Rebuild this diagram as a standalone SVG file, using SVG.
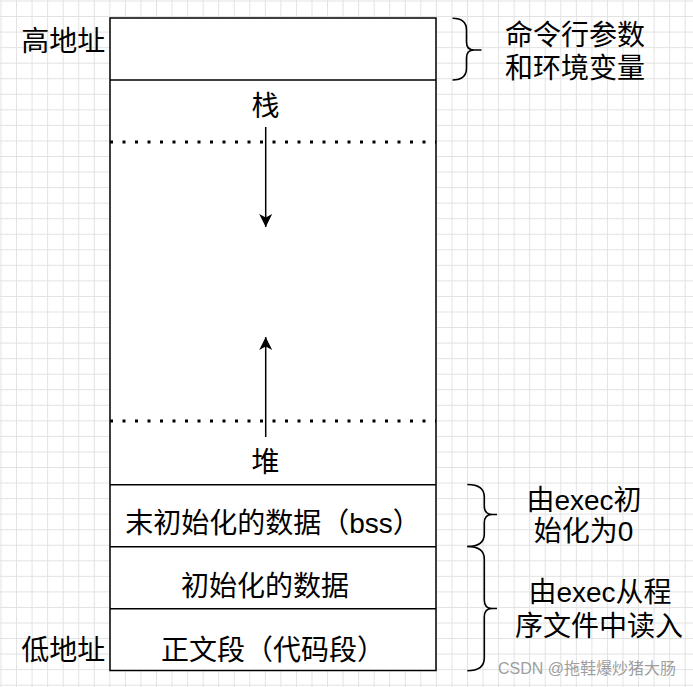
<svg xmlns="http://www.w3.org/2000/svg" width="693" height="687" viewBox="0 0 693 687">
<style>
.t{font-family:"Liberation Sans","Noto Sans CJK SC",sans-serif;font-size:28px;fill:#000}
.c{text-anchor:middle}
.box{fill:#fff;stroke:#000;stroke-width:1.5}
.sep{stroke:#000;stroke-width:1.5;fill:none}
.dot{stroke:#000;stroke-width:3;stroke-dasharray:3 9.5;fill:none}
.br{fill:none;stroke:#000;stroke-width:1.6}
.ar{stroke:#000;stroke-width:1.5;fill:none}
.wm{font-family:"Liberation Sans","Noto Sans CJK SC",sans-serif;font-size:16px;fill:#9e9e9e}
</style>
<defs>
<pattern id="grid" patternUnits="userSpaceOnUse" x="0.5" y="0.5" width="15.55" height="15.55">
<path d="M0.5 0V15.55M0 0.5H15.55" stroke="#e2e2e2" stroke-width="1" fill="none"/>
</pattern>
<marker id="arr" markerUnits="userSpaceOnUse" viewBox="0 0 14 14" markerWidth="14" markerHeight="14" refX="13" refY="7" orient="auto">
<path d="M0 0.5L13 7L0 13.5L3.5 7Z" fill="#000"/>
</marker>
</defs>
<rect width="693" height="687" fill="#fff"/>
<rect width="693" height="687" fill="url(#grid)"/>
<g id="memory">
<rect class="box" x="110" y="18" width="326" height="652.5"/>
<path class="sep" d="M110 80H436M110 484.7H436M110 546.7H436M110 608.7H436"/>
<path class="dot" d="M110 142H436M110 421H436"/>
</g>
<g id="args"><text class="t" x="575" y="44.5" text-anchor="middle">命令行参数</text><text class="t" x="575" y="78" text-anchor="middle">和环境变量</text></g>
<g id="stack"><text class="t c" x="265.5" y="116">栈</text></g>
<g id="heap"><text class="t c" x="265.5" y="472">堆</text></g>
<g id="bss"><text class="t c" x="273" y="533">末初始化的数据（bss）</text></g>
<g id="data"><text class="t c" x="265" y="596">初始化的数据</text></g>
<g id="text"><text class="t c" x="273" y="659.5">正文段（代码段）</text></g>
<g id="high"><text class="t c" x="63.3" y="51">高地址</text></g>
<g id="low"><text class="t c" x="63.3" y="659.5">低地址</text></g>
<g id="bssnote"><text class="t c" x="584" y="510">由exec初</text><text class="t c" x="583.5" y="540.5">始化为0</text></g>
<g id="datanote"><text class="t c" x="600" y="601.5">由exec从程</text><text class="t c" x="599" y="636">序文件中读入</text></g>
<g id="braces">
<path class="br" d="M452.5 18.3Q466.5 18.3 466.5 30L466.5 42Q466.5 50 474 50L481.5 50M481.5 50L474 50Q466.5 50 466.5 58L466.5 68Q466.5 80 452.5 80"/>
<path class="br" d="M467.3 484.5Q484.3 484.5 484.3 497L484.3 506Q484.3 514.5 492 514.5L497 514.5M497 514.5L492 514.5Q484.3 514.5 484.3 523L484.3 534Q484.3 546.5 467.3 546.5"/>
<path class="br" d="M467.3 546.5Q484.3 546.5 484.3 559L484.3 600Q484.3 608.5 492 608.5L497 608.5M497 608.5L492 608.5Q484.3 608.5 484.3 617L484.3 658Q484.3 670.7 467.3 670.7"/>
</g>
<g id="connectors">
<path class="ar" d="M265.7 127V227" marker-end="url(#arr)"/>
<path class="ar" d="M265.7 437V337" marker-end="url(#arr)"/>
</g>
<text class="wm" x="498" y="674">CSDN @拖鞋爆炒猪大肠</text>
</svg>
